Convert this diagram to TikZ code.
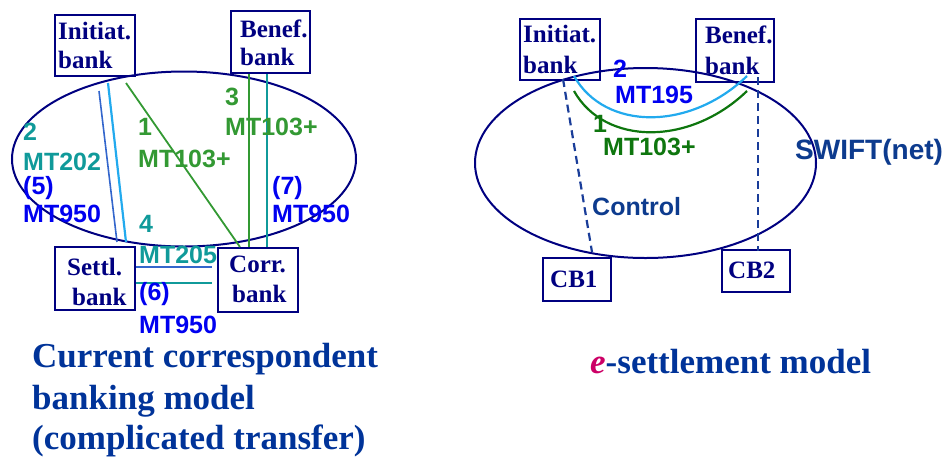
\documentclass[tikz,border=0pt]{standalone}
\usepackage{fontspec}
\setmainfont{Liberation Serif}
\setsansfont{Liberation Sans}
\usetikzlibrary{shapes.geometric,calc}
\definecolor{navy}{HTML}{000080}
\definecolor{tealc}{HTML}{109A9A}
\definecolor{greenc}{HTML}{339933}
\definecolor{dgreen}{HTML}{0E760E}
\definecolor{bluec}{HTML}{0000F0}
\definecolor{lblue}{HTML}{22AAEE}
\definecolor{lnkblue}{HTML}{3366CC}
\definecolor{titleblue}{HTML}{003399}
\definecolor{swiftblue}{HTML}{0D3B8E}
\definecolor{dashblue}{HTML}{1A3D99}
\definecolor{magc}{HTML}{CC0066}
\begin{document}
\begin{tikzpicture}[x=1pt,y=-1pt,
  box/.style={draw=navy, line width=2pt, rectangle, inner sep=0pt},
  oval/.style={draw=navy, line width=2pt, ellipse, inner sep=0pt},
  boxtxt/.style={font=\fontsize{25}{30}\selectfont\bfseries, text=navy, anchor=base west, inner sep=0pt},
  lbl/.style={font=\fontsize{25}{30}\selectfont\sffamily\bfseries, anchor=base west, inner sep=0pt},
  title/.style={font=\fontsize{35}{41}\selectfont\bfseries, text=titleblue, anchor=base west, inner sep=0pt},
  dashln/.style={draw=dashblue, line width=2.2pt, dash pattern=on 8pt off 5pt}
]
\useasboundingbox (0,0) rectangle (950,456);

% ---------------- Left diagram ----------------
\node[oval, minimum width=344pt, minimum height=175pt] (e1) at (184,159) {};
\node[box, minimum width=80pt, minimum height=61pt] (ib) at (95,45.5) {};
\node[box, minimum width=79pt, minimum height=62pt] (bb) at (270.5,42) {};
\node[box, minimum width=80pt, minimum height=63pt] (sb) at (95,278.5) {};
\node[box, minimum width=80pt, minimum height=64pt] (cb) at (258,280) {};

\node[boxtxt] (ibt1) at (58,39) {Initiat.};
\node[boxtxt] (ibt2) at (58,68) {bank};
\node[boxtxt] (bbt1) at (240,37) {Benef.};
\node[boxtxt] (bbt2) at (240,65) {bank};
\node[boxtxt] (sbt1) at (67,275) {Settl.};
\node[boxtxt] (sbt2) at (72,305) {bank};
\node[boxtxt] (cbt1) at (229,272) {Corr.};
\node[boxtxt] (cbt2) at (232,302) {bank};

% connectors
\draw[draw=lnkblue, line width=1.6pt] ($(ib.south)+(4,14)$) -- ($(sb.north)+(22,-4)$);
\draw[draw=lblue, line width=2.2pt] ($(ib.south)+(13,6)$) -- ($(sb.north)+(31,-4)$);
\draw[draw=greenc, line width=1.8pt] ($(ib.south)+(31,6)$) -- ($(cb.north)+(-18,0)$);
\draw[draw=greenc, line width=2.8pt] ($(bb.south)+(-21.5,0)$) -- ($(cb.north)+(-9,0)$);
\draw[draw=tealc, line width=2.6pt] ($(bb.south)+(-3.5,0)$) -- ($(cb.north)+(9,0)$);
\draw[draw=lnkblue, line width=2.8pt] ($(sb.east)+(0,-11.5)$) -- ($(cb.west)+(-5,-13)$);
\draw[draw=tealc, line width=2.8pt] ($(sb.east)+(0,4.5)$) -- ($(cb.west)+(-5,3)$);

% labels
\node[lbl, text=tealc] (l2) at (23,140) {2};
\node[lbl, text=tealc] (l202) at (23,170) {MT202};
\node[lbl, text=bluec] (l5) at (23,194) {(5)};
\node[lbl, text=bluec] (l950a) at (23,222) {MT950};
\node[lbl, text=greenc] (l1) at (138,135) {1};
\node[lbl, text=greenc] (l103a) at (138,167) {MT103+};
\node[lbl, text=greenc] (l3) at (225,105) {3};
\node[lbl, text=greenc] (l103b) at (225,135) {MT103+};
\node[lbl, text=bluec] (l7) at (272,194) {(7)};
\node[lbl, text=bluec] (l950b) at (272,222) {MT950};
\node[lbl, text=tealc] (l4) at (139,232) {4};
\node[lbl, text=tealc] (l205) at (139,263) {MT205};
\node[lbl, text=bluec] (l6) at (139,300) {(6)};
\node[lbl, text=bluec] (l950c) at (139,333) {MT950};

\node[title] (t1) at (32,367) {Current correspondent};
\node[title] (t2) at (32,409) {banking model};
\node[title] (t3) at (32,449) {(complicated transfer)};

% ---------------- Right diagram ----------------
\node[oval, minimum width=341pt, minimum height=190pt] (e2) at (645.5,163) {};
\node[box, minimum width=80pt, minimum height=61pt] (ib2) at (560,49.5) {};
\node[box, minimum width=78pt, minimum height=63pt] (bb2) at (735,50.5) {};
\node[box, minimum width=68pt, minimum height=43pt] (cb1) at (577,279.5) {};
\node[box, minimum width=68pt, minimum height=42pt] (cb2) at (756,271) {};

\node[boxtxt] (ib2t1) at (523,42) {Initiat.};
\node[boxtxt] (ib2t2) at (523,73) {bank};
\node[boxtxt] (bb2t1) at (705,43) {Benef.};
\node[boxtxt] (bb2t2) at (705,74) {bank};
\node[boxtxt] (cb1t) at (550,287) {CB1};
\node[boxtxt] (cb2t) at (728,278) {CB2};

\draw[dashln] ($(ib2.south)+(3,-2)$) -- ($(cb1.north)+(15,-5)$);
\draw[dashln] ($(bb2.south)+(23,-6)$) -- ($(cb2.north)+(2,2)$);

\coordinate (lbs) at ($(ib2.south east)+(-27,-5)$);
\coordinate (lbe) at ($(bb2.south west)+(52,-7)$);
\coordinate (gs) at ($(ib2.south east)+(-27,10)$);
\coordinate (ge) at ($(bb2.south west)+(52,8)$);
\draw[draw=lblue, line width=2.2pt] (lbs) .. controls (605,131) and (690,131) .. (lbe);
\draw[draw=dgreen, line width=2.2pt] (gs) .. controls (605,146) and (690,146) .. (ge);

\node[lbl, text=bluec] (r2) at (613,77) {2};
\node[lbl, text=bluec] (r195) at (615,103) {MT195};
\node[lbl, text=dgreen] (r1) at (593,132) {1};
\node[lbl, text=dgreen] (r103) at (603,155) {MT103+};
\node[lbl, text=swiftblue] (rctl) at (592,215) {Control};
\node[lbl, text=swiftblue, font=\fontsize{28}{32}\selectfont\sffamily\bfseries] (rswift) at (795,159) {SWIFT(net)};

\node[title] (t4) at (590,373) {\textcolor{magc}{\itshape e}-settlement model};
\end{tikzpicture}
\end{document}
